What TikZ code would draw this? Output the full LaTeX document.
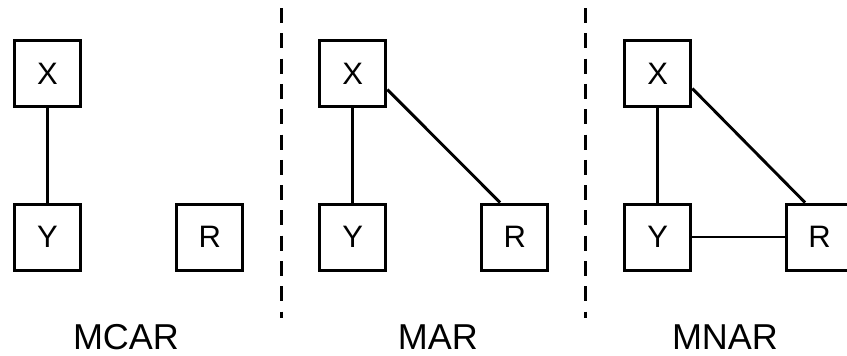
\documentclass[tikz,border=0pt]{standalone}
\usepackage{fontspec}
\setmainfont{Liberation Sans}
\begin{document}
\begin{tikzpicture}[x=1pt,y=-1pt,
  var/.style={draw,line width=3pt,minimum size=66pt,inner sep=0pt,font=\fontsize{31}{34}\selectfont},
  link/.style={line width=2.9pt},
  sep/.style={line width=3.5pt,dash pattern=on 15pt off 10.3pt},
  lbl/.style={anchor=base,font=\fontsize{36}{40}\selectfont,inner sep=0pt}]
\useasboundingbox (0,0) rectangle (847,356);
% panel 1
\node[var] (X1) at (47.5,73.5) {X};
\node[var] (Y1) at (47.5,237) {Y};
\node[var] (R1) at (209.7,237) {R};
\draw[link] (X1) -- (Y1);
\node[lbl] (L1) at (126,349) {MCAR};
% separators
\coordinate (s1a) at (281.5,8);
\coordinate (s1b) at (281.5,318);
\draw[sep] (s1a) -- (s1b);
\coordinate (s2a) at (585.3,8);
\coordinate (s2b) at (585.3,318);
\draw[sep] (s2a) -- (s2b);
% panel 2
\node[var] (X2) at (352.8,73.5) {X};
\node[var] (Y2) at (352.8,237) {Y};
\node[var] (R2) at (514.7,237) {R};
\draw[link] (X2) -- (Y2);
\draw[link] ([yshift=-16pt]X2.east) -- ([xshift=-14.7pt]R2.north);
\node[lbl] (L2) at (437.8,349) {MAR};
% panel 3
\node[var] (X3) at (657.8,73.5) {X};
\node[var] (Y3) at (657.8,237) {Y};
\node[var] (R3) at (819.5,237) {R};
\draw[link] (X3) -- (Y3);
\draw[link] ([yshift=-15pt]X3.east) -- ([xshift=-14.5pt]R3.north);
\draw[link] (Y3) -- (R3);
\node[lbl] (L3) at (725,349) {MNAR};
\end{tikzpicture}
\end{document}
